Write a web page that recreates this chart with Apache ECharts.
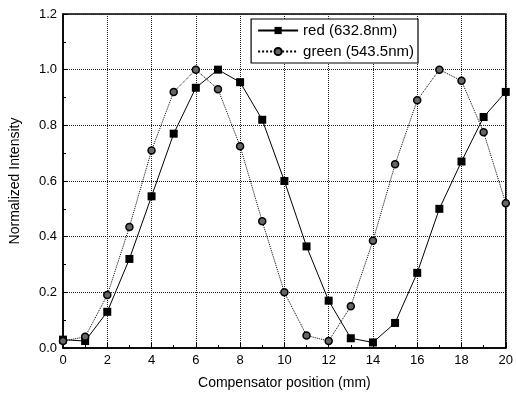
<!DOCTYPE html>
<html>
<head>
<meta charset="utf-8">
<script src="https://cdn.jsdelivr.net/npm/echarts@6/dist/echarts.min.js"></script>
<style>
  html, body { margin: 0; padding: 0; background: #fff; }
  #chart { width: 516px; height: 403px; }
</style>
</head>
<body>
<div id="chart"></div>
<script>
  const positions = [0, 1, 2, 3, 4, 5, 6, 7, 8, 9, 10, 11, 12, 13, 14, 15, 16, 17, 18, 19, 20];
  const redValues = [0.03, 0.025, 0.13, 0.32, 0.545, 0.77, 0.935, 1.0, 0.955, 0.82, 0.60, 0.365, 0.17, 0.035, 0.02, 0.09, 0.27, 0.50, 0.67, 0.83, 0.92];
  const greenValues = [0.025, 0.04, 0.19, 0.435, 0.71, 0.92, 1.0, 0.93, 0.725, 0.455, 0.20, 0.045, 0.025, 0.15, 0.385, 0.66, 0.89, 1.0, 0.96, 0.775, 0.52];

  const font = 'Liberation Sans, Arial, sans-serif';
  const chart = echarts.init(document.getElementById('chart'));
  const option = {
    animation: false,
    textStyle: { fontFamily: font },
    grid: {
      left: 60, right: 5, top: 14, bottom: 55,
      show: true, borderColor: '#000', borderWidth: 1.5
    },
    legend: {
      right: 98, top: 19,
      orient: 'vertical',
      itemGap: 6,
      itemWidth: 40,
      itemHeight: 9,
      padding: [4, 4, 4, 6],
      borderColor: '#000',
      borderWidth: 1.2,
      backgroundColor: '#fff',
      textStyle: { fontSize: 15, color: '#000', fontFamily: font },
      data: ['red (632.8nm)', 'green (543.5nm)']
    },
    xAxis: {
      type: 'value',
      min: 0, max: 20, interval: 2,
      name: 'Compensator position (mm)',
      nameLocation: 'middle',
      nameGap: 28,
      nameTextStyle: { fontSize: 14, color: '#000' },
      axisLine: { lineStyle: { color: '#000', width: 1.5 } },
      axisTick: { inside: true, length: 5, lineStyle: { color: '#000' } },
      minorTick: { show: true, splitNumber: 2, length: 3, lineStyle: { color: '#000' } },
      axisLabel: { fontSize: 13, color: '#000', margin: 6 },
      splitLine: { show: true, lineStyle: { type: 'dotted', color: '#222', width: 1 } }
    },
    yAxis: {
      type: 'value',
      min: 0, max: 1.2, interval: 0.2,
      name: 'Normalized Intensity',
      nameLocation: 'middle',
      nameGap: 41,
      nameTextStyle: { fontSize: 14, color: '#000' },
      axisLine: { show: true, lineStyle: { color: '#000', width: 1.5 } },
      axisTick: { show: true, inside: true, length: 5, lineStyle: { color: '#000' } },
      minorTick: { show: true, splitNumber: 2, length: 3, lineStyle: { color: '#000' } },
      axisLabel: { fontSize: 13, color: '#000', margin: 6, formatter: v => v.toFixed(1) },
      splitLine: { show: true, lineStyle: { type: 'dotted', color: '#222', width: 1 } }
    },
    series: [
      {
        name: 'red (632.8nm)',
        type: 'line',
        data: positions.map((x, i) => [x, redValues[i]]),
        symbol: 'rect',
        symbolSize: 8,
        itemStyle: { color: '#000' },
        lineStyle: { color: '#000', width: 1 }
      },
      {
        name: 'green (543.5nm)',
        type: 'line',
        data: positions.map((x, i) => [x, greenValues[i]]),
        symbol: 'circle',
        symbolSize: 7,
        itemStyle: { color: '#666', borderColor: '#000', borderWidth: 1.5 },
        lineStyle: { color: '#000', width: 1, type: 'dotted' }
      }
    ]
  };
  chart.setOption(option);
</script>
</body>
</html>
